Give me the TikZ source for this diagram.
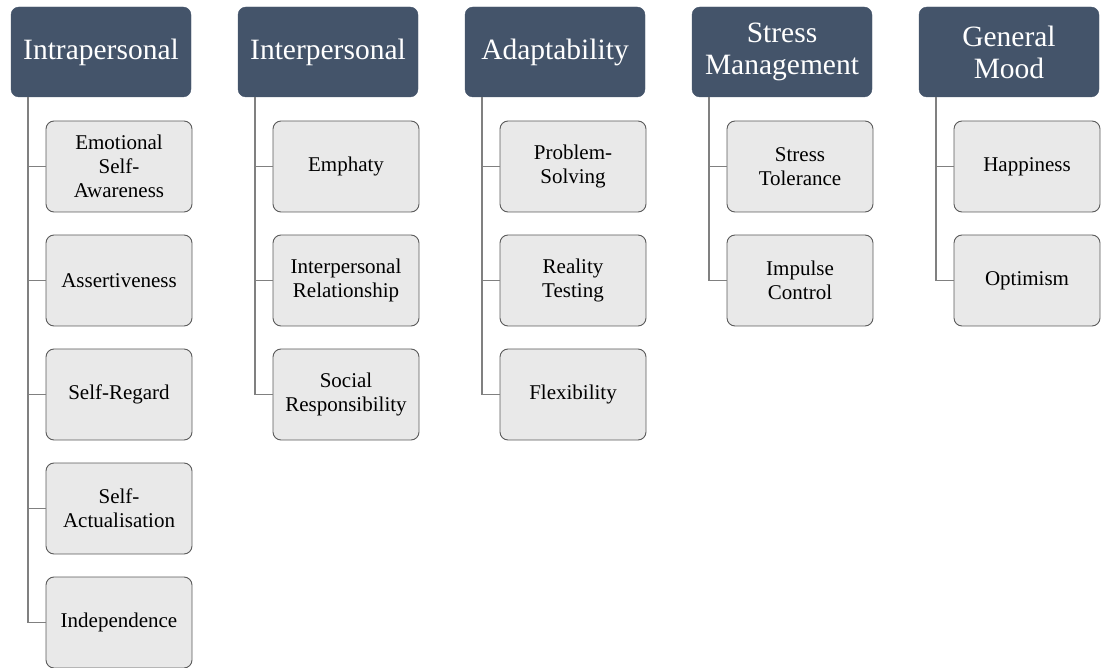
\documentclass[tikz,border=0pt]{standalone}
\usepackage{fontspec}
\setmainfont{Liberation Serif}
\usetikzlibrary{calc}

\definecolor{headblue}{HTML}{44546A}
\definecolor{itemgrey}{HTML}{E9E9E9}
\definecolor{itemline}{HTML}{5A5A5A}
\definecolor{linkgrey}{HTML}{808080}

\tikzset{
  head/.style={rectangle, rounded corners=8, fill=headblue, draw=headblue, text=white,
    minimum width=180, minimum height=90, inner sep=2, align=center,
    font=\rmfamily\fontsize{29.5}{32}\selectfont},
  item/.style={rectangle, rounded corners=8, fill=itemgrey, draw=itemline, line width=0.9,
    minimum width=146, minimum height=91, inner sep=2, align=center,
    font=\rmfamily\fontsize{21}{24}\selectfont},
  link/.style={draw=linkgrey, line width=1.4}
}

\begin{document}
\begin{tikzpicture}[x=1pt, y=-1pt]
    \useasboundingbox (0,0) rectangle (1106,668);

    % the five headings
    \node[head](intra) at (101,52) {Intrapersonal};
    \node[head](inter) at (328,52) {Interpersonal};
    \node[head](adapt) at (555,52) {Adaptability};
    \node[head](stress) at (782,52) {Stress\\Management};
    \node[head](mood) at (1009,52) {General\\Mood};

    % sub-scales, one column each
    \foreach \t [count=\j] in {{Emotional\\Self-\\Awareness}, Assertiveness, Self-Regard, {Self-\\Actualisation}, Independence}
    {\node[item](intra\j) at (119,52.5+114*\j) {\t};}
    \foreach \t [count=\j] in {Emphaty, {Interpersonal\\Relationship}, {Social\\Responsibility}}
    {\node[item](inter\j) at (346,52.5+114*\j) {\t};}
    \foreach \t [count=\j] in {{Problem-\\Solving}, {Reality\\Testing}, Flexibility}
    {\node[item](adapt\j) at (573,52.5+114*\j) {\t};}
    \foreach \t [count=\j] in {{Stress\\Tolerance}, {Impulse\\Control}}
    {\node[item](stress\j) at (800,52.5+114*\j) {\t};}
    \foreach \t [count=\j] in {Happiness, Optimism}
    {\node[item](mood\j) at (1027,52.5+114*\j) {\t};}

    % elbow lines from each heading to its items
    \foreach \h/\n in {intra/5, inter/3, adapt/3, stress/2, mood/2}
    {\foreach \j in {1, ..., \n}
    {\draw[link] ([xshift=17]\h.south west) |- (\h\j.west);}}
\end{tikzpicture}
\end{document}
